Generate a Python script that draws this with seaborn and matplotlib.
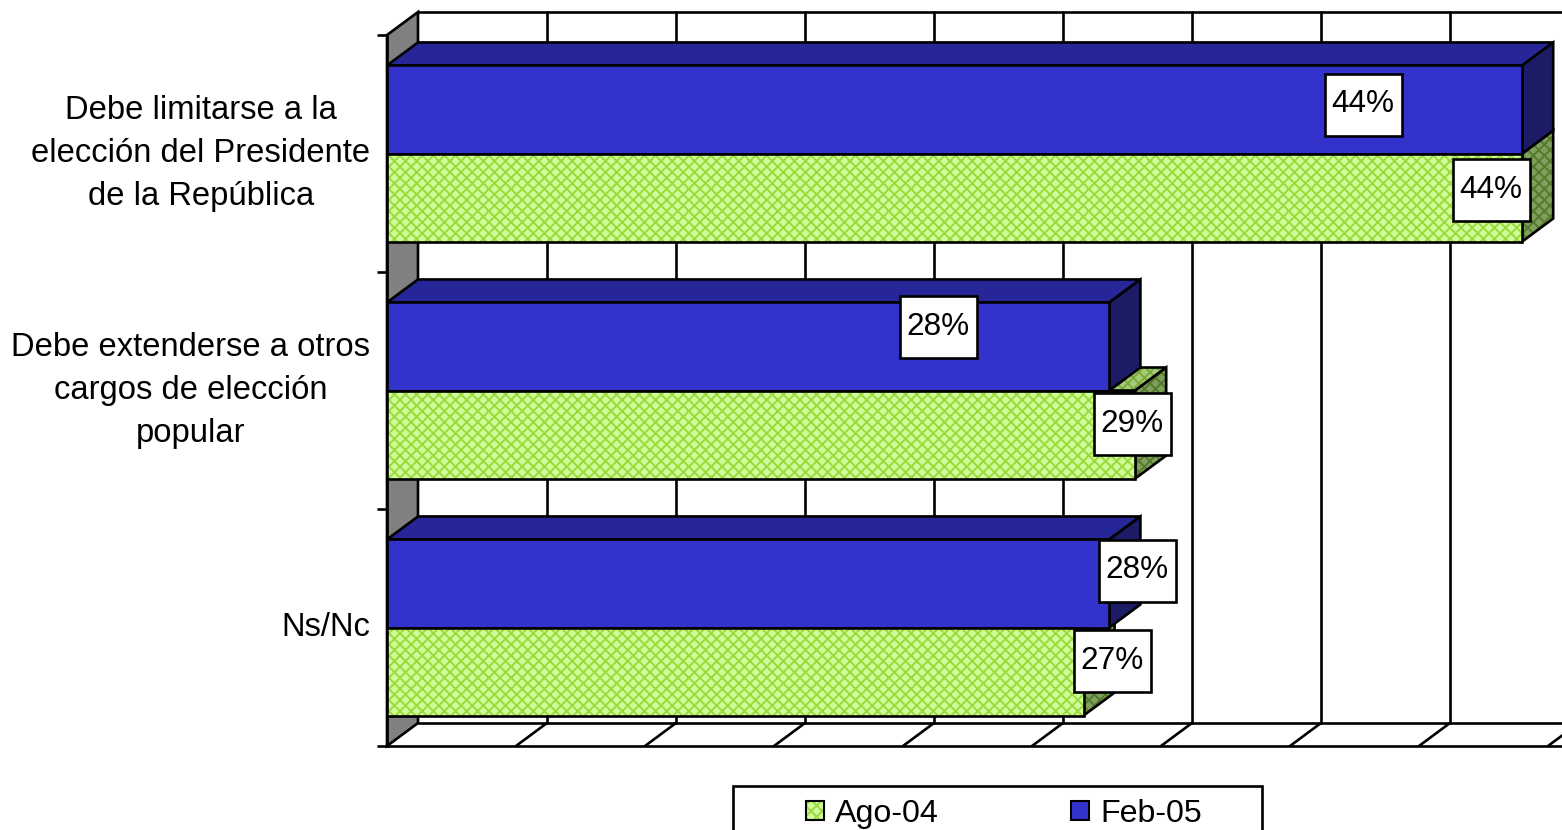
import matplotlib
matplotlib.use('Agg')
import matplotlib.pyplot as plt
from matplotlib.colors import to_rgba
from matplotlib.patches import Patch, Polygon, Rectangle
import pandas as pd
import seaborn as sns

categorias = ['Debe limitarse a la\nelección del Presidente\nde la República',
              'Debe extenderse a otros\ncargos de elección\npopular',
              'Ns/Nc']
ago_04 = [44, 29, 27]
feb_05 = [44, 28, 28]
grid_values = [5, 10, 15, 20, 25, 30, 35, 40, 45]

# manual label positions from the reference, in pixels (center of the white box)
pos_ago = [(1491, 190), (1132, 424), (1112, 661)]
pos_feb = [(1363, 105), (938, 327), (1137, 571)]

W, H = 1562, 830
PX_PER_PCT = 25.8
PX_PER_CAT = 237.0
DX = 31 / PX_PER_PCT   # 3d depth in data units
DY = 23 / PX_PER_CAT

BLACK_LW = 1.9
GREEN, GREEN_HATCH = '#CCFF99', '#9FD83C'
GREEN_SIDE, GREEN_SIDE_HATCH = '#7F9F5F', '#557A2A'
GREEN_TOP, GREEN_TOP_HATCH = '#A3CC7A', '#7FA83A'
BLUE, BLUE_TOP, BLUE_SIDE = '#3333CC', '#262699', '#1C1C66'

sns.set_theme(style='white')
plt.rcParams['font.family'] = ['Liberation Sans', 'DejaVu Sans']
plt.rcParams['hatch.linewidth'] = 1.4
FS_TICK = 23.6
FS_VALUE = 22.7
FS_LEG = 23.2


def set_hatch(patch, hatch_color):
    # black outline but coloured hatch
    patch.set_hatch('xxx')
    patch._hatch_color = to_rgba(hatch_color)


df = pd.DataFrame({
    'categoria': categorias * 2,
    'valor': feb_05 + ago_04,
    'serie': ['Feb-05'] * 3 + ['Ago-04'] * 3,
})

fig = plt.figure(figsize=(W / 100, H / 100), dpi=100, facecolor='white')
ax = fig.add_axes([387 / W, (H - 746) / H, (W - 387) / W, (746 - 35) / H])

sns.barplot(data=df, y='categoria', x='valor', hue='serie', order=categorias,
            hue_order=['Feb-05', 'Ago-04'], palette={'Feb-05': BLUE, 'Ago-04': GREEN},
            width=0.743, saturation=1, edgecolor='black', linewidth=BLACK_LW,
            legend=False, ax=ax)
ax.set_xlim(0, (W - 387) / PX_PER_PCT)
ax.set_ylim(2.5, -0.5)
ax.set_xlabel('')
ax.set_ylabel('')
ax.set_xticks([])
ax.set_facecolor('none')
ax.set_axisbelow(False)

# category ticks sit between the groups, labels stay in the middle
ax.set_yticks([-0.5, 0.5, 1.5, 2.5], minor=True)
ax.tick_params(axis='y', which='minor', left=True, length=7.2, width=BLACK_LW, color='black')
ax.tick_params(axis='y', which='major', left=False, pad=6, labelsize=FS_TICK, labelcolor='black')
for lab in ax.get_yticklabels():
    lab.set_multialignment('center')
    lab.set_linespacing(1.5)
    lab.set_verticalalignment('center')

sns.despine(ax=ax, top=True, right=True)
for s in ['left', 'bottom']:
    ax.spines[s].set_linewidth(BLACK_LW)
    ax.spines[s].set_color('black')

# back wall, floor and gridlines
xmax = ax.get_xlim()[1]
back_top = -0.5 - DY
back_bottom = 2.5 - DY
ax.add_patch(Polygon([(0, -0.5), (DX, back_top), (DX, back_bottom), (0, 2.5)],
                     closed=True, fc='#808080', ec='black', lw=BLACK_LW, zorder=1, clip_on=False))
ax.plot([DX, xmax], [back_top, back_top], color='black', lw=BLACK_LW, zorder=1, clip_on=False)
ax.plot([DX, xmax], [back_bottom, back_bottom], color='black', lw=BLACK_LW, zorder=1, clip_on=False)
for v in grid_values:
    ax.plot([v + DX, v + DX], [back_top, back_bottom], color='black', lw=BLACK_LW, zorder=1, clip_on=False)
    ax.plot([v, v + DX], [2.5, back_bottom], color='black', lw=BLACK_LW, zorder=1, clip_on=True)

# 3d faces of the bars, built from the bars seaborn drew
feb_bars, ago_bars = ax.containers
for bars, z, top_c, side_c in [(ago_bars, 2, GREEN_TOP, GREEN_SIDE), (feb_bars, 3, BLUE_TOP, BLUE_SIDE)]:
    for bar in bars:
        x1 = bar.get_width()
        y0, y1 = bar.get_y(), bar.get_y() + bar.get_height()
        top = Polygon([(0, y0), (DX, y0 - DY), (x1 + DX, y0 - DY), (x1, y0)],
                      closed=True, fc=top_c, ec='black', lw=BLACK_LW, zorder=z, clip_on=False)
        side = Polygon([(x1, y0), (x1 + DX, y0 - DY), (x1 + DX, y1 - DY), (x1, y1)],
                       closed=True, fc=side_c, ec='black', lw=BLACK_LW, zorder=z, clip_on=False)
        ax.add_patch(top)
        ax.add_patch(side)
        if bars is ago_bars:
            set_hatch(top, GREEN_TOP_HATCH)
            set_hatch(side, GREEN_SIDE_HATCH)
        bar.set_zorder(4)
        bar.set_clip_on(False)
for bar in ago_bars:
    set_hatch(bar, GREEN_HATCH)


def value_box(cx, cy, value):
    fig.add_artist(Rectangle(((cx - 38.5) / W, (H - cy - 31) / H), 77 / W, 62 / H,
                             transform=fig.transFigure, fc='white', ec='black', lw=BLACK_LW, zorder=6))
    fig.text(cx / W, (H - cy + 4) / H, f'{value}%', ha='center', va='center_baseline',
             fontsize=FS_VALUE, color='black', zorder=7)


for (cx, cy), v in zip(pos_feb + pos_ago, feb_05 + ago_04):
    value_box(cx, cy, v)

# legend frame goes off the bottom of the picture like in the original
fig.add_artist(Rectangle((733 / W, -0.02), 529 / W, (H - 786) / H + 0.02,
                         transform=fig.transFigure, fc='white', ec='black', lw=BLACK_LW, zorder=5))
h_ago = Patch(fc=GREEN, ec='black', lw=1.5, label='Ago-04')
set_hatch(h_ago, GREEN_HATCH)
h_feb = Patch(fc=BLUE, ec='black', lw=1.5, label='Feb-05')
leg = fig.legend(handles=[h_ago, h_feb], ncols=2, frameon=False, fontsize=FS_LEG,
                 loc='center left', bbox_to_anchor=(806 / W, (H - 814) / H),
                 handlelength=0.55, handleheight=0.55, handletextpad=0.35,
                 columnspacing=4.1, borderpad=0, borderaxespad=0)
leg.set_zorder(6)
for t in leg.get_texts():
    t.set_color('black')

fig.savefig('out.png', dpi=100)
